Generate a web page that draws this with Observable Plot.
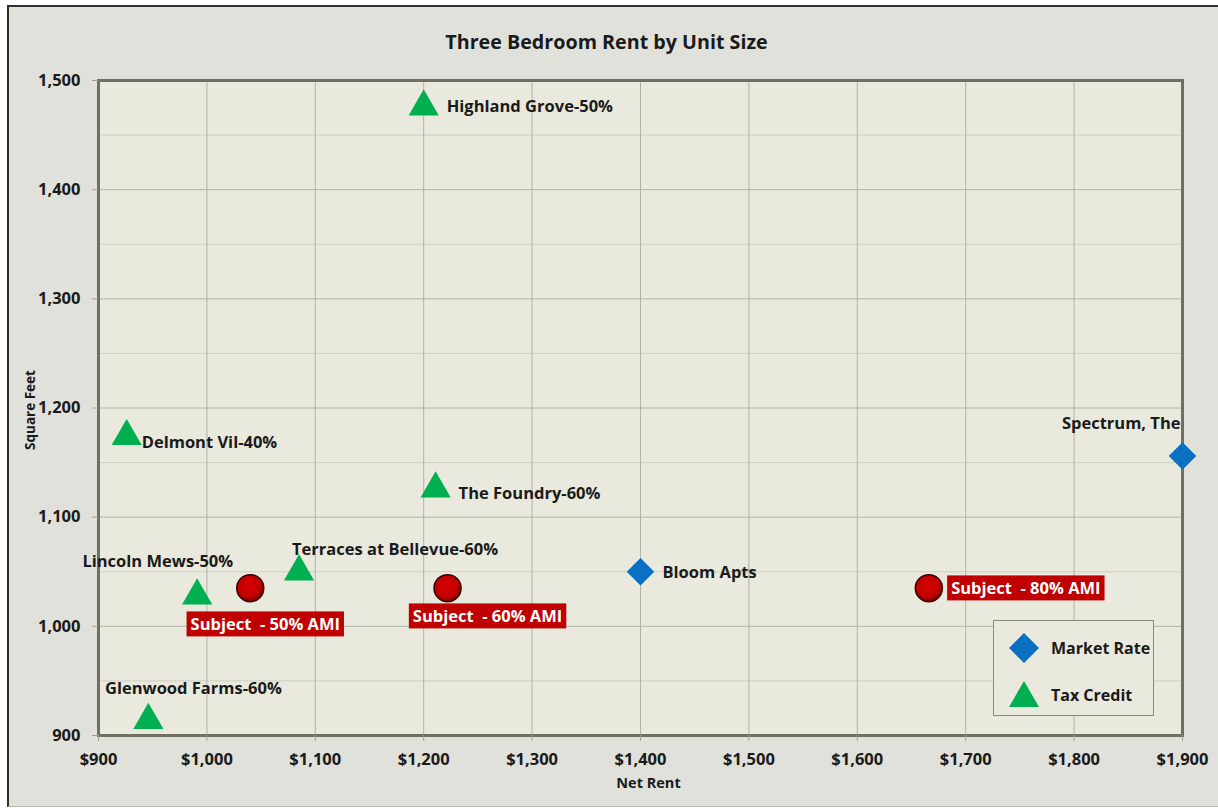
<!DOCTYPE html>
<html>
<head>
<meta charset="utf-8">
<script src="https://cdn.jsdelivr.net/npm/d3@7"></script>
<script src="https://cdn.jsdelivr.net/npm/@observablehq/plot@0.6"></script>
<style>
  html, body { margin: 0; padding: 0; background: #ffffff; }
  #wrap { position: relative; width: 1218px; height: 809px; overflow: hidden; font-family: "Open Sans", Lato, sans-serif; }
  #bg { position: absolute; left: 7px; top: 5px; width: 1230px; height: 799px; background: #e1e1db;
        border-left: 2.5px solid #2e2e2e; border-top: 2.5px solid #2e2e2e; border-bottom: 1px solid #b8b8b0; }
  #chart { position: absolute; left: 0; top: 0; }
  #chart svg text { white-space: pre; }
  #legend { position: absolute; left: 993px; top: 620px; width: 159px; height: 94px; background: #e9e9dd;
            border: 1px solid #8a8a80; overflow: visible; }
  .li { position: absolute; left: 0; height: 30px; width: 200px; white-space: nowrap; display: flex; align-items: center; font-weight: 700; font-size: 16px; color: #1a1a1a; }
  .li svg { flex: none; margin-left: 14px; margin-right: 11px; }
</style>
</head>
<body>
<div id="wrap">
  <div id="bg"></div>
  <div id="chart"></div>
  <div id="legend">
    <div class="li" style="top:12px"><svg width="32" height="32" viewBox="-16 -16 32 32"><path d="M0,-15L15,0L0,15L-15,0Z" fill="#0a70c4"/></svg><span>Market Rate</span></div>
    <div class="li" style="top:59px"><svg width="32" height="32" viewBox="-16 -16 32 32"><path d="M0,-14L15,12L-15,12Z" fill="#00b050"/></svg><span>Tax Credit</span></div>
  </div>
</div>
<script>
// ---- data ----
const compNames = ["Highland Grove-50%", "Delmont Vil-40%", "The Foundry-60%", "Terraces at Bellevue-60%",
                   "Lincoln Mews-50%", "Glenwood Farms-60%", "Bloom Apts", "Spectrum, The"];
const compRent  = [1200, 926, 1211, 1085, 991, 946, 1400, 1900];
const compSqft  = [1476, 1174, 1126, 1050, 1028, 914, 1050, 1156];
const compType  = ["Tax Credit", "Tax Credit", "Tax Credit", "Tax Credit", "Tax Credit", "Tax Credit", "Market Rate", "Market Rate"];

const subjNames = ["Subject  - 50% AMI", "Subject  - 60% AMI", "Subject  - 80% AMI"];
const subjRent  = [1040, 1222, 1666];
const subjSqft  = [1035, 1035, 1035];

const xTicks = [900, 1000, 1100, 1200, 1300, 1400, 1500, 1600, 1700, 1800, 1900];
const yTicks = [900, 1000, 1100, 1200, 1300, 1400, 1500];
const yMinor = [950, 1050, 1150, 1250, 1350, 1450];

// ---- label placement (styling, not data) ----
const compLabelPos = {
  "Highland Grove-50%":       {anchor: "start",  dx: 23,  dy: 0},
  "Delmont Vil-40%":          {anchor: "start",  dx: 15,  dy: 6},
  "The Foundry-60%":          {anchor: "start",  dx: 23,  dy: 5},
  "Terraces at Bellevue-60%": {anchor: "start",  dx: -7,  dy: -22},
  "Lincoln Mews-50%":         {anchor: "end",    dx: 36,  dy: -34},
  "Glenwood Farms-60%":       {anchor: "middle", dx: 45,  dy: -31},
  "Bloom Apts":               {anchor: "start",  dx: 22,  dy: 1},
  "Spectrum, The":            {anchor: "end",    dx: -2,  dy: -32}
};
const subjLabelPos = [
  {dx: 15, dy: 37},
  {dx: 40, dy: 29},
  {dx: 97, dy: 1}
];

const comps = compNames.map((n, i) => ({name: n, rent: compRent[i], sqft: compSqft[i], type: compType[i]}));
const subjects = subjNames.map((n, i) => ({name: n, rent: subjRent[i], sqft: subjSqft[i], i}));

const colors = {"Tax Credit": "#00b050", "Market Rate": "#0a70c4"};
const fmtX = d => "$" + d3.format(",")(d);
const fmtY = d3.format(",");
const FONT = "'Open Sans', Lato, sans-serif";
const LABEL_SIZE = 16.5;

const labelMarks = comps.map(d => {
  const p = compLabelPos[d.name];
  return Plot.text([d], {x: "rent", y: "sqft", text: "name", textAnchor: p.anchor,
    dx: p.dx, dy: p.dy, fontSize: LABEL_SIZE, fontWeight: 700, fill: "#1a1a1a"});
});
const subjLabelMarks = subjects.map((d, i) => Plot.text([d], {x: "rent", y: "sqft", text: "name",
  dx: subjLabelPos[i].dx, dy: subjLabelPos[i].dy, fontSize: LABEL_SIZE, fontWeight: 700, fill: "#ffffff"}));

const plot = Plot.plot({
  width: 1218,
  height: 809,
  marginLeft: 98,
  marginRight: 36,
  marginTop: 80,
  marginBottom: 74,
  style: {background: "transparent", fontFamily: FONT, color: "#1a1a1a", overflow: "visible"},
  x: {domain: [900, 1900]},
  y: {domain: [900, 1500]},
  marks: [
    Plot.frame({fill: "#e9e9dd", stroke: null}),
    Plot.gridY(yMinor, {stroke: "#cfcfc4", strokeOpacity: 1, strokeWidth: 1}),
    Plot.gridY(yTicks, {stroke: "#b2b2a8", strokeOpacity: 1, strokeWidth: 1}),
    Plot.gridX(xTicks, {stroke: "#b2b2a8", strokeOpacity: 1, strokeWidth: 1}),
    Plot.frame({stroke: "#707062", strokeWidth: 3}),
    Plot.axisX(xTicks, {tickFormat: fmtX, tickSize: 6, tickPadding: 12, fontSize: 16.5, fontWeight: 700,
      stroke: "#a0a098", label: null}),
    Plot.axisY(yTicks, {tickFormat: fmtY, tickSize: 6, tickPadding: 12, fontSize: 16.5, fontWeight: 700,
      stroke: "#a0a098", label: null}),
    Plot.text(["Net Rent"], {frameAnchor: "bottom", lineAnchor: "middle", textAnchor: "middle", dx: 8, dy: 48, fontSize: 14.5, fontWeight: 700, fill: "#1a1a1a"}),
    Plot.text(["Square Feet"], {frameAnchor: "left", lineAnchor: "middle", textAnchor: "middle", dx: -68, dy: 2, rotate: -90, fontSize: 13.5, fontWeight: 700, fill: "#1a1a1a"}),
    Plot.text(["Three Bedroom Rent by Unit Size"], {frameAnchor: "top", lineAnchor: "middle", textAnchor: "middle", dx: -34, dy: -38, fontSize: 19.7, fontWeight: 700, fill: "#1a1a1a"}),
    Plot.dot(comps.filter(d => d.type === "Tax Credit"), {x: "rent", y: "sqft", symbol: "triangle", r: 11.2, fill: colors["Tax Credit"], stroke: null}),
    Plot.dot(comps.filter(d => d.type === "Market Rate"), {x: "rent", y: "sqft", symbol: "diamond2", r: 12.4, fill: colors["Market Rate"], stroke: null}),
    Plot.dot(subjects, {x: "rent", y: "sqft", r: 13.5, fill: "url(#subjGrad)", stroke: "#3a0000", strokeWidth: 1.5}),
    ...labelMarks,
    ...subjLabelMarks
  ]
});

document.getElementById("chart").appendChild(plot);

// gradient for subject circles
const svg = d3.select(plot);
const defs = svg.insert("defs", ":first-child");
const g = defs.append("radialGradient").attr("id", "subjGrad").attr("cx", "45%").attr("cy", "40%").attr("r", "60%");
g.append("stop").attr("offset", "0%").attr("stop-color", "#d80000");
g.append("stop").attr("offset", "70%").attr("stop-color", "#c00000");
g.append("stop").attr("offset", "100%").attr("stop-color", "#7a0000");

// red boxes behind subject labels
svg.selectAll("text").filter(function() { return subjNames.includes(this.textContent); }).each(function() {
  const bb = this.getBBox();
  const tr = this.getAttribute("transform");
  const rect = document.createElementNS("http://www.w3.org/2000/svg", "rect");
  rect.setAttribute("x", bb.x - 4);
  rect.setAttribute("y", bb.y - 1);
  rect.setAttribute("width", bb.width + 8);
  rect.setAttribute("height", bb.height + 2);
  rect.setAttribute("fill", "#c00000");
  if (tr) rect.setAttribute("transform", tr);
  this.parentNode.insertBefore(rect, this);
});
</script>
</body>
</html>
